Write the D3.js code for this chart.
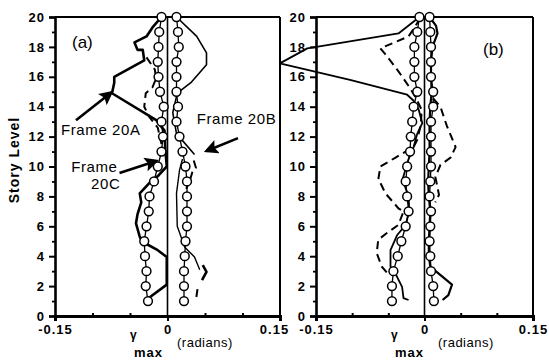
<!DOCTYPE html>
<meta charset="utf-8">
<style>
body { margin: 0; background: #fff; }
svg { display: block; }
.tick text, .lab { font-family: "Liberation Sans", Arial, sans-serif; font-weight: bold; fill: #000; }
.note { font-family: "Liberation Sans", Arial, sans-serif; fill: #000; }
</style>
<body>
<div id="chart"></div>
<script src="https://d3js.org/d3.v7.min.js"></script>
<script>
// story levels used by the circle series
var stories = [1, 2, 3, 4, 5, 6, 7, 8, 9, 10, 11, 12, 13, 14, 15, 16, 17, 18, 19, 20];
var yTicks = [0, 2, 4, 6, 8, 10, 12, 14, 16, 18, 20];
var xTicks = [-0.15, 0, 0.15];
var xMinor = [-0.1, -0.05, 0.05, 0.1];

// panel (a)
var aCircNeg = [-0.026, -0.029, -0.028, -0.030, -0.031, -0.028, -0.025, -0.024, -0.018, -0.013,
    -0.008, -0.006, -0.008, -0.005, -0.010, -0.012, -0.013, -0.012, -0.011, -0.008];
var aCircPos = [0.022, 0.022, 0.022, 0.023, 0.024, 0.026, 0.026, 0.026, 0.026, 0.024,
    0.020, 0.016, 0.012, 0.014, 0.012, 0.012, 0.012, 0.015, 0.014, 0.012];
var aThickSt = [20, 19.3, 18.7, 18.3, 17.8, 17.8, 17.1, 16.0, 15.6, 14.9, 13.1, 12.4, 11.2, 10.0, 9.4, 8.9, 8.2, 7.6, 6.8, 6.2, 5.3, 4.95, 4.4, 3.95, 2.1, 1.2];
var aThickG = [-0.008, -0.020, -0.028, -0.044, -0.040, -0.033, -0.031, -0.071, -0.071, -0.074, -0.015, -0.004, -0.003, -0.001, -0.012, -0.024, -0.037, -0.035, -0.040, -0.042, -0.037, -0.033, -0.013, -0.001, -0.001, -0.025];
var aDashNegSt = [17.3, 16.5, 15.9, 15.3, 14.9, 14.0, 13.3, 12.6, 11.5];
var aDashNegG = [-0.028, -0.017, -0.015, -0.020, -0.029, -0.031, -0.024, -0.013, -0.008];
var aThinSt = [20, 18.7, 17.6, 16.8, 15.65, 14.9, 13.6, 12.2, 10.8];
var aThinG = [0.012, 0.039, 0.052, 0.052, 0.032, 0.013, 0.007, 0.012, 0.036];
var aDashPosSt = [10.4, 9.9, 9.6, 9.1, 8.5];
var aDashPosG = [0.035, 0.038, 0.033, 0.030, 0.025];
var aThinLowSt = [10.5, 9.75, 8.2, 6.0, 4.6, 3.95, 3.1];
var aThinLowG = [0.020, 0.016, 0.012, 0.013, 0.023, 0.036, 0.043];
var aHookSt = [3.4, 2.95, 2.4];
var aHookG = [0.047, 0.052, 0.046];
var aDashLowSt = [1.8, 1.1];
var aDashLowG = [0.040, 0.038];

// panel (b)
var bCircNeg = [-0.045, -0.045, -0.043, -0.037, -0.032, -0.026, -0.022, -0.024, -0.026, -0.024,
    -0.020, -0.019, -0.017, -0.015, -0.010, -0.014, -0.014, -0.014, -0.010, -0.007];
var bCircPos = [0.013, 0.012, 0.009, 0.008, 0.007, 0.008, 0.009, 0.007, 0.008, 0.009,
    0.009, 0.009, 0.009, 0.012, 0.012, 0.009, 0.009, 0.009, 0.008, 0.007];
var bSolidSt = [20, 18.9, 17.9, 16.9, 15.8, 14.8, 14.4, 13.8, 12.9, 12.2, 11.3, 10.5, 9.2, 8.8, 8.0, 7.0, 6.1, 5.4, 4.4, 3.3, 3.1, 1.95, 1.2, 1.07];
var bSolidG = [-0.007, -0.036, -0.162, -0.200, -0.103, -0.024, -0.015, -0.008, -0.003, -0.010, -0.015, -0.022, -0.030, -0.028, -0.022, -0.021, -0.026, -0.038, -0.047, -0.047, -0.043, -0.031, -0.029, -0.022];
var bDashNegSt = [19.9, 18.7, 17.9, 17.5, 16.5, 15.25, 14.6, 13.8, 12.8, 11.8, 11.3, 10.6, 10.0, 9.1, 8.9, 8.2, 7.6, 7.2, 7.0, 6.1, 5.55, 5.1, 4.2, 3.3, 2.9];
var bDashNegG = [-0.006, -0.022, -0.061, -0.054, -0.038, -0.020, -0.012, -0.004, -0.005, -0.010, -0.015, -0.040, -0.061, -0.064, -0.061, -0.054, -0.043, -0.036, -0.029, -0.036, -0.052, -0.064, -0.066, -0.059, -0.052];
var bThickPosSt = [20, 19.4, 18.9, 18.0, 17, 16, 15, 14, 13, 12, 11, 10, 9, 8, 7, 6, 5, 4, 3.3, 2.1, 1.4, 1.07];
var bThickPosG = [0.007, 0.016, 0.018, 0.011, 0.009, 0.009, 0.010, 0.008, 0.007, 0.007, 0.007, 0.006, 0.005, 0.006, 0.008, 0.007, 0.006, 0.006, 0.008, 0.038, 0.033, 0.025];
var bDashPosSt = [15.4, 14.6, 14.0, 12.7, 11.3, 10.6, 10.1, 9.3, 8.6, 8.1, 7.6];
var bDashPosG = [0.010, 0.011, 0.022, 0.031, 0.043, 0.036, 0.022, 0.015, 0.018, 0.020, 0.015];

var width = 549, height = 360;
var svg = d3.select("#chart").append("svg").attr("width", width).attr("height", height);

svg.append("defs").append("marker")
    .attr("id", "head").attr("viewBox", "0 0 10 10")
    .attr("refX", 8).attr("refY", 5)
    .attr("markerWidth", 5.5).attr("markerHeight", 5.5)
    .attr("orient", "auto")
    .append("path").attr("d", "M0,0L10,5L0,10L2,5Z").attr("fill", "#000");

var y = d3.scaleLinear().domain([0, 20]).range([316, 17]);

function zip(st, g) { return st.map(function(s, i) { return [g[i], s]; }); }

var panels = [
    { name: "(a)", left: 55, right: 280, labX: 72, labY: 48,
      solid: [
        { d: zip(aThickSt, aThickG), w: 2.6 },
        { d: zip(aThinSt, aThinG), w: 1.6 },
        { d: zip(aThinLowSt, aThinLowG), w: 1.4 },
        { d: zip(aHookSt, aHookG), w: 2.6 }],
      dashed: [zip(aDashNegSt, aDashNegG), zip(aDashPosSt, aDashPosG), zip(aDashLowSt, aDashLowG)],
      circ: [aCircNeg, aCircPos] },
    { name: "(b)", left: 316, right: 533, labX: 483, labY: 55,
      solid: [
        { d: zip(bSolidSt, bSolidG), w: 1.8 },
        { d: zip(bThickPosSt, bThickPosG), w: 2.2 }],
      dashed: [zip(bDashNegSt, bDashNegG), zip(bDashPosSt, bDashPosG)],
      circ: [bCircNeg, bCircPos] }
];

panels.forEach(function(p, pi) {
    var x = d3.scaleLinear().domain([-0.15, 0.15]).range([p.left, p.right]);
    var g = svg.append("g");
    var line = d3.line().x(function(d) { return x(d[0]); }).y(function(d) { return y(d[1]); });

    // frame top and right
    g.append("line").attr("x1", x(-0.15)).attr("x2", x(0.15)).attr("y1", y(20)).attr("y2", y(20))
        .attr("stroke", "#000").attr("stroke-width", 2);
    g.append("line").attr("x1", x(0.15)).attr("x2", x(0.15)).attr("y1", y(20)).attr("y2", y(0))
        .attr("stroke", "#000").attr("stroke-width", 2);
    // zero line
    g.append("line").attr("x1", x(0)).attr("x2", x(0)).attr("y1", y(20)).attr("y2", y(0))
        .attr("stroke", "#000").attr("stroke-width", 1.6);

    // y axis
    var ya = g.append("g").attr("transform", "translate(" + p.left + ",0)")
        .call(d3.axisLeft(y).tickValues(yTicks).tickSize(6).tickPadding(4).tickFormat(d3.format("d")));
    ya.select(".domain").attr("stroke-width", 2.6);
    ya.selectAll(".tick line").attr("stroke-width", 2);
    ya.selectAll(".tick text").style("font-size", "13px").style("letter-spacing", "1px");
    g.append("g").attr("transform", "translate(" + p.left + ",0)")
        .call(d3.axisLeft(y).tickValues(stories.filter(function(s) { return s % 2; })).tickSize(3).tickFormat(""))
        .call(function(s) { s.select(".domain").remove(); s.selectAll("line").attr("stroke-width", 1.8); });

    // x axis
    var xa = g.append("g").attr("transform", "translate(0," + y(0) + ")")
        .call(d3.axisBottom(x).tickValues(xTicks).tickSize(5).tickPadding(4)
            .tickFormat(function(d) { return d === 0 ? "0" : d3.format(".2f")(d).replace("−", "-"); }));
    xa.select(".domain").attr("stroke-width", 3);
    xa.selectAll(".tick line").attr("stroke-width", 2);
    xa.selectAll(".tick text").style("font-size", "13px").style("letter-spacing", "1px");
    if (pi === 0) xa.selectAll(".tick text").filter(function(d) { return d === 0.15; }).attr("dx", -6);
    g.append("g").attr("transform", "translate(0," + y(0) + ")")
        .call(d3.axisTop(x).tickValues(xMinor).tickSize(3).tickFormat(""))
        .call(function(s) { s.select(".domain").remove(); s.selectAll("line").attr("stroke-width", 2); });

    // axis title
    g.append("text").attr("class", "lab").attr("x", x(-0.15) + 75).attr("y", 339)
        .style("font-size", "12px").text("γ");
    g.append("text").attr("class", "lab").attr("x", x(-0.15) + 79).attr("y", 357)
        .style("font-size", "13px").style("letter-spacing", "1px").text("max");
    g.append("text").attr("class", "lab").attr("x", x(-0.15) + 122).attr("y", 347)
        .style("font-size", "13px").style("font-weight", "normal").style("letter-spacing", "0.5px").text("(radians)");

    // lines
    p.solid.forEach(function(s) {
        g.append("path").attr("d", line(s.d)).attr("fill", "none").attr("stroke", "#000")
            .attr("stroke-width", s.w).attr("stroke-linejoin", "round");
    });
    p.dashed.forEach(function(s) {
        g.append("path").attr("d", line(s)).attr("fill", "none").attr("stroke", "#000")
            .attr("stroke-width", 2).attr("stroke-dasharray", "8,5");
    });
    p.circ.forEach(function(vals) {
        var pts = stories.map(function(s, i) { return [vals[i], s]; });
        g.append("path").attr("d", line(pts)).attr("fill", "none").attr("stroke", "#000").attr("stroke-width", 1.3);
        g.selectAll(null).data(pts).enter().append("circle")
            .attr("cx", function(d) { return x(d[0]); }).attr("cy", function(d) { return y(d[1]); })
            .attr("r", 4.4).attr("fill", "#fff").attr("stroke", "#000").attr("stroke-width", 1.5);
    });

    g.append("text").attr("class", "note").attr("x", p.labX).attr("y", p.labY)
        .style("font-size", "17px").text(p.name);

    if (pi === 0) {
        var arrows = [[-0.122, 13.1, -0.075, 14.95], [-0.064, 9.57, -0.015, 10.37], [0.094, 11.9, 0.052, 11.04]];
        arrows.forEach(function(a) {
            g.append("line").attr("x1", x(a[0])).attr("y1", y(a[1])).attr("x2", x(a[2])).attr("y2", y(a[3]))
                .attr("stroke", "#000").attr("stroke-width", 2.6).attr("marker-end", "url(#head)");
        });
        var notes = [["Frame 20A", -0.142, 12.1], ["Frame 20B", 0.039, 12.85], ["Frame", -0.1285, 9.63], ["20C", -0.102, 8.5]];
        notes.forEach(function(n) {
            g.append("text").attr("class", "note").attr("x", x(n[1])).attr("y", y(n[2]))
                .style("font-size", "15px").style("letter-spacing", "0.6px").text(n[0]);
        });
    }
});

svg.append("text").attr("class", "lab")
    .attr("transform", "translate(19,160) rotate(-90)")
    .attr("text-anchor", "middle").style("font-size", "14px").style("letter-spacing", "1px")
    .text("Story  Level");
</script>
</body>
